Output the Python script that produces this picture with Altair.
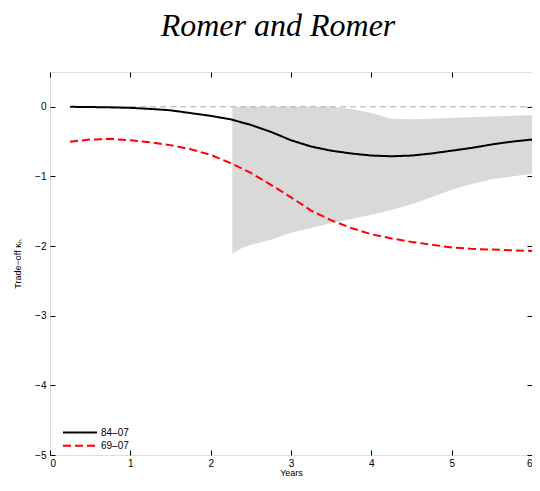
import altair as alt
import pandas as pd

# ---- data ----
years = [0.25, 0.5, 0.75, 1.0, 1.25, 1.5, 1.75, 2.0, 2.25, 2.5, 2.75, 3.0,
         3.25, 3.5, 3.75, 4.0, 4.25, 4.5, 4.75, 5.0, 5.25, 5.5, 5.75, 6.0]
k_84_07 = [0.0, -0.003, -0.008, -0.015, -0.03, -0.05, -0.09, -0.13, -0.18, -0.26, -0.36, -0.48,
           -0.57, -0.63, -0.67, -0.70, -0.71, -0.70, -0.67, -0.63, -0.59, -0.54, -0.50, -0.47]
k_69_07 = [-0.50, -0.47, -0.46, -0.48, -0.51, -0.55, -0.61, -0.69, -0.81, -0.95, -1.12, -1.30,
           -1.49, -1.63, -1.74, -1.83, -1.89, -1.94, -1.98, -2.02, -2.04, -2.05, -2.06, -2.07]

band_years = [2.27, 2.4, 2.5, 2.75, 3.0, 3.25, 3.5, 3.75, 4.0, 4.25, 4.5, 4.75,
              5.0, 5.25, 5.5, 5.75, 6.0]
band_upper = [0.0, 0.0, 0.0, 0.0, 0.0, 0.0, 0.0, -0.03, -0.09, -0.17, -0.18, -0.17,
              -0.16, -0.15, -0.14, -0.13, -0.12]
band_lower = [-2.11, -2.02, -1.98, -1.91, -1.81, -1.74, -1.67, -1.61, -1.55, -1.48, -1.40, -1.30,
              -1.19, -1.11, -1.04, -1.00, -0.96]

zero_years = [0.25, 6.0]
zero_vals = [0.0, 0.0]

series_names = ["84\u201307", "69\u201307"]
x_ticks = [0, 1, 2, 3, 4, 5, 6]
y_ticks = [-5, -4, -3, -2, -1, 0]

# ---- tables ----
lines_df = pd.DataFrame({
    "year": years * 2,
    "k": k_84_07 + k_69_07,
    "series": [series_names[0]] * len(years) + [series_names[1]] * len(years),
})
band_df = pd.DataFrame({"year": band_years, "lo": band_lower, "hi": band_upper})
zero_df = pd.DataFrame({"year": zero_years, "k": zero_vals})

xs = alt.Scale(domain=[0, 6], nice=False, zero=False)
ys = alt.Scale(domain=[-5, 0.5], nice=False, zero=False)

font = "Liberation Sans"

bottom_axis = alt.Axis(orient="bottom", values=x_ticks, offset=-5, tickSize=5, domain=False,
                       grid=False, labelPadding=3, labelFontSize=10, labelFont=font,
                       labelColor="black", tickColor="black", title="Years",
                       titleFont=font, titleFontSize=9, titleFontWeight="normal",
                       titleColor="black", titlePadding=0)
top_axis = alt.Axis(orient="top", values=x_ticks, offset=-5, tickSize=5, domain=False,
                    grid=False, labels=False, tickColor="black", title=None)
left_axis = alt.Axis(orient="left", values=y_ticks, offset=-5, tickSize=5, domain=False,
                     grid=False, labelPadding=4, labelFontSize=10, labelFont=font,
                     labelColor="black", tickColor="black", title="Trade\u2212off \u03ba\u2095",
                     titleFont=font, titleFontSize=9, titleFontWeight="normal",
                     titleColor="black", titlePadding=12)
right_axis = alt.Axis(orient="right", values=y_ticks, offset=-5, tickSize=5, domain=False,
                      grid=False, labels=False, tickColor="black", title=None)

band = alt.Chart(band_df).mark_area(color="#d9d9d9", opacity=1).encode(
    x=alt.X("year:Q", scale=xs, axis=bottom_axis),
    y=alt.Y("lo:Q", scale=ys, axis=left_axis),
    y2="hi:Q",
)

zero = alt.Chart(zero_df).mark_line(color="#aaaaaa", strokeWidth=1, strokeDash=[6, 4]).encode(
    x=alt.X("year:Q", scale=xs, axis=top_axis),
    y=alt.Y("k:Q", scale=ys, axis=right_axis),
)


def make_legend():
    return alt.Legend(title=None, orient="none", legendX=24.5, legendY=355,
                      symbolType="M-4,0H4", symbolSize=72.25, symbolStrokeWidth=2,
                      labelFont=font, labelFontSize=10, labelColor="black",
                      labelOffset=15.5, rowPadding=2.3)


lines = alt.Chart(lines_df).mark_line(strokeWidth=2).encode(
    x=alt.X("year:Q", scale=xs, axis=None),
    y=alt.Y("k:Q", scale=ys, axis=None),
    color=alt.Color("series:N", scale=alt.Scale(domain=series_names, range=["black", "red"]),
                    legend=make_legend()),
    strokeDash=alt.StrokeDash("series:N",
                              scale=alt.Scale(domain=series_names, range=[[1, 0], [8, 4]]),
                              legend=make_legend()),
    order=alt.Order("series:N"),
)

chart = alt.layer(band, zero, lines).resolve_axis(
    x="independent", y="independent"
).properties(
    width=482,
    height=383,
    autosize=alt.AutoSizeParams(type="none"),
    padding={"left": 42, "top": 64, "right": 0, "bottom": 23},
    title=alt.TitleParams("Romer and Romer", font="Liberation Serif", fontStyle="italic",
                          fontWeight="normal", fontSize=32, color="black", anchor="middle",
                          dx=-13, offset=29),
).configure_view(stroke="black", strokeWidth=1).configure(background="white")

chart.save("out.html", embed_options={"renderer": "svg", "actions": False})
